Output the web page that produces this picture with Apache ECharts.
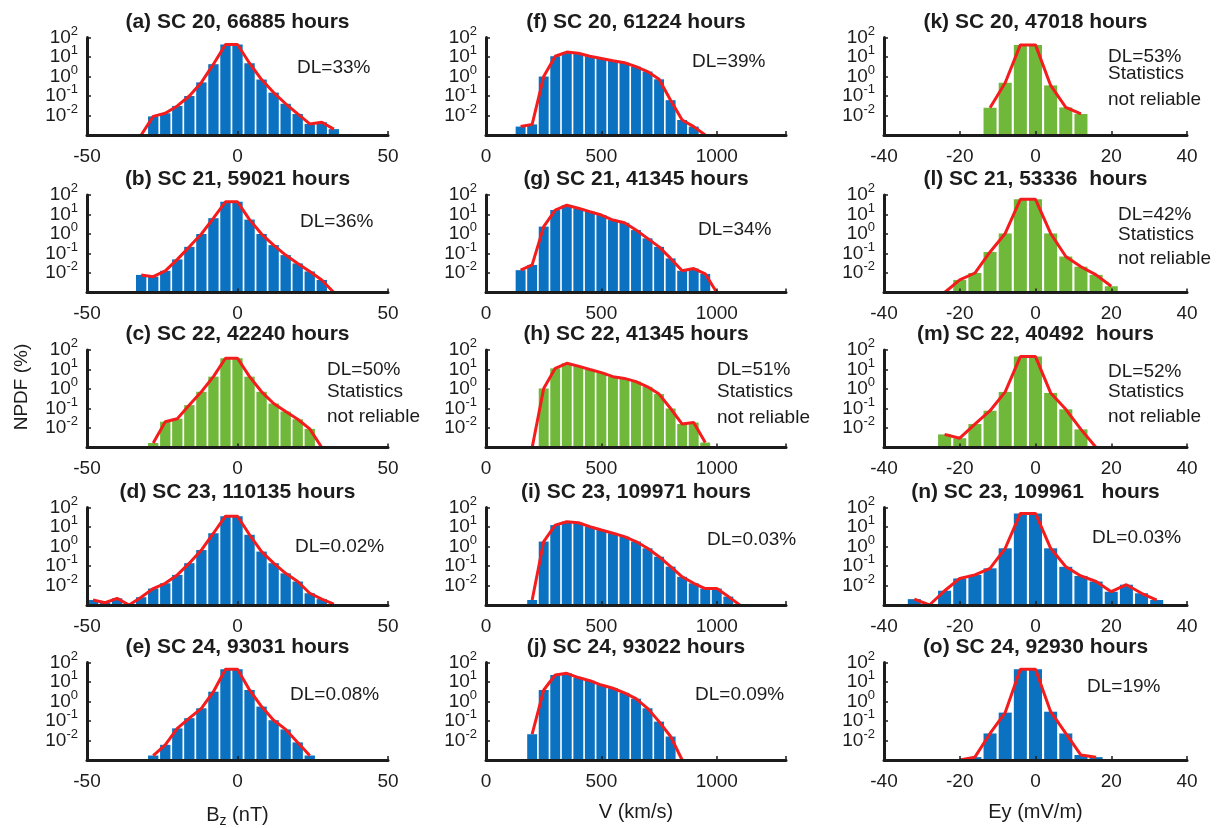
<!DOCTYPE html>
<html>
<head>
<meta charset="utf-8">
<script src="https://cdn.jsdelivr.net/npm/echarts@6/dist/echarts.min.js"></script>
<style>
html,body{margin:0;padding:0;background:#ffffff;}
#chart{width:1221px;height:828px;}
</style>
</head>
<body>
<div id="chart"></div>
<script>
// ---------------- DATA ----------------
// bin centres for each column
const BZ_BINS = [-48,-44,-40,-36,-32,-28,-24,-20,-16,-12,-8,-4,0,4,8,12,16,20,24,28,32];
const V_BINS  = [150,200,250,300,350,400,450,500,550,600,650,700,750,800,850,900,950,1000,1050,1100];
const EY_BINS = [-32,-28,-24,-20,-16,-12,-8,-4,0,4,8,12,16,20,24,28,32];

// NPDF (%) per bin; null = outside plotted range, 0 = empty bin (line drops to axis floor)
const BZ_SC20 = [null,null,null,null,0,0.009,0.013,0.031,0.1,0.5,4.3,44,44,4.8,0.7,0.15,0.04,0.012,0.0037,0.0045,0.002];
const BZ_SC21 = [null,null,null,null,0.008,0.0065,0.013,0.05,0.22,1.0,6.5,45,45,5.5,1.0,0.27,0.083,0.031,0.012,0.0044,0];
const BZ_SC22 = [null,null,null,null,null,0.0017,0.021,0.03,0.15,0.72,4.3,38,38,4.3,0.72,0.18,0.07,0.028,0.009,0,null];
const BZ_SC23 = [0.0018,0.0013,0.0022,0,0.0025,0.007,0.013,0.035,0.14,0.66,4.8,36,36,4,0.55,0.14,0.042,0.016,0.004,0.002,0.0011];
const BZ_SC24 = [null,null,null,null,null,0.0017,0.006,0.042,0.14,0.45,3.2,45,45,3.9,0.55,0.11,0.037,0.008,0.0017,null,null];

const V_SC20 = [0.0027,0.0035,1.0,11,18,15.5,11,8.5,6.5,5.1,3.2,1.8,0.72,0.061,0.0059,0.0027,0,null,null,null];
const V_SC21 = [0.014,0.026,2.4,17,30,21,14,9.4,5.2,3.8,1.6,0.6,0.22,0.056,0.013,0.017,0.009,0,null,null];
const V_SC22 = [null,0,1.07,11.5,21,15,10,6.9,4.3,3.5,2.4,1.3,0.55,0.1,0.016,0.019,0.0018,null,null,null];
const V_SC23 = [null,0.0018,1.8,12.5,18.7,16.6,10.4,7,4.8,3.2,1.8,0.81,0.3,0.093,0.028,0.013,0.007,0.007,0.0027,0];
const V_SC24 = [null,0.021,3.9,23,28,17,11.7,7,4.8,2.8,1.4,0.45,0.093,0.016,0,null,null,null,null,null];

const EY_SC20 = [null,null,null,null,null,0.025,0.48,42,42,0.35,0.026,0.012,null,null,null,null,null];
const EY_SC21 = [null,null,0,0.0044,0.01,0.12,1.07,60,60,1.07,0.07,0.021,0.008,0.0021,null,null,null];
const EY_SC22 = [null,null,0.0047,0.003,0.016,0.077,0.71,46,46,0.63,0.091,0.0085,0,null,null,null,null];
const EY_SC23 = [0.002,0,0.0054,0.023,0.035,0.076,0.81,50,50,0.81,0.091,0.031,0.016,0.0048,0.011,0.004,0.0018];
const EY_SC24 = [null,null,null,0,0.0014,0.023,0.27,45,45,0.3,0.023,0.0018,0.0014,null,null,null,null];

const BZ_TITLES = ['(a) SC 20, 66885 hours','(b) SC 21, 59021 hours','(c) SC 22, 42240 hours','(d) SC 23, 110135 hours','(e) SC 24, 93031 hours'];
const V_TITLES  = ['(f) SC 20, 61224 hours','(g) SC 21, 41345 hours','(h) SC 22, 41345 hours','(i) SC 23, 109971 hours','(j) SC 24, 93022 hours'];
const EY_TITLES = ['(k) SC 20, 47018 hours','(l) SC 21, 53336  hours','(m) SC 22, 40492  hours','(n) SC 23, 109961   hours','(o) SC 24, 92930 hours'];

const BZ_DL = [['DL=33%'],['DL=36%'],['DL=50%','Statistics','not reliable'],['DL=0.02%'],['DL=0.08%']];
const V_DL  = [['DL=39%'],['DL=34%'],['DL=51%','Statistics','not reliable'],['DL=0.03%'],['DL=0.09%']];
const EY_DL = [['DL=53%','Statistics','not reliable'],['DL=42%','Statistics','not reliable'],['DL=52%','Statistics','not reliable'],['DL=0.03%'],['DL=19%']];

const X_NAMES = ['B{sub|z} (nT)','V (km/s)','Ey (mV/m)'];
const Y_NAME = 'NPDF (%)';
const X_RANGES = [[-50,50,50],[0,1300,500],[-40,40,20]];
const Y_MIN = 0.001, Y_MAX = 100;

// ---------------- LAYOUT / STYLE ----------------
const FONT = '"Liberation Sans", Arial, Helvetica, sans-serif';
const TXT = '#1c1c1c';
const BLUE = '#0a72c0';
const GREEN = '#70b83a';
const RED = '#f41c1c';
const COL_LEFT = [87, 486, 884];
const COL_W = [301, 300, 303];
const ROW_BOTTOM = [135, 292.5, 447.5, 605, 760];
const GRID_H = 97.5;
const GREEN_PANELS = {'0_2':1,'1_2':1,'2_0':1,'2_1':1,'2_2':1};
// DL text anchor (left x, centre y of first line) and line offsets
const DL_POS = [
  [[297,68],[300,222],[327,370],[295,547],[290,695]],
  [[692,62],[698,230],[717,370],[707,540],[695,695]],
  [[1108,57],[1118,215],[1108,372],[1092,538],[1087,687]]
];
const DL_LINE_OFF = [
  [null,null,[0,22,47],null,null],
  [null,null,[0,22,48],null,null],
  [[0,17,43],[0,20,44],[0,20,45],null,null]
];

const COLS = [
  {bins: BZ_BINS, vals: [BZ_SC20,BZ_SC21,BZ_SC22,BZ_SC23,BZ_SC24], titles: BZ_TITLES, dl: BZ_DL},
  {bins: V_BINS,  vals: [V_SC20,V_SC21,V_SC22,V_SC23,V_SC24],      titles: V_TITLES,  dl: V_DL},
  {bins: EY_BINS, vals: [EY_SC20,EY_SC21,EY_SC22,EY_SC23,EY_SC24], titles: EY_TITLES, dl: EY_DL}
];

// y-axis top is nudged a hair above 10^2 so that the (blank) end tick, not the 10^2 label,
// is the one ECharts drops when neighbouring labels crowd each other
const Y_TOP = Y_MAX * 1.005;

const grids = [], xAxes = [], yAxes = [], series = [], graphics = [];
let idx = 0;
COLS.forEach((col, c) => {
  col.vals.forEach((vals, r) => {
    const yb = ROW_BOTTOM[r];
    grids.push({left: COL_LEFT[c], top: yb - GRID_H, width: COL_W[c], height: GRID_H,
                containLabel: false, outerBoundsMode: 'none'});
    const xr = X_RANGES[c];
    const isBottom = r === 4;
    xAxes.push({
      type: 'value', gridIndex: idx, min: xr[0], max: xr[1], interval: xr[2], z: 6,
      splitLine: {show: false},
      axisLine: {show: true, onZero: false, lineStyle: {color: TXT, width: 3}},
      axisTick: {show: true, inside: true, length: 4, lineStyle: {color: TXT, width: 1.5}},
      axisLabel: {show: true, fontSize: 19, fontFamily: FONT, color: TXT, margin: 12,
                  hideOverlap: false,
                  formatter: v => (v % xr[2] === 0 ? String(v) : '')},
      name: isBottom ? X_NAMES[c] : '',
      nameLocation: 'middle', nameGap: 42,
      nameTextStyle: {fontSize: 20, fontFamily: FONT, color: TXT,
                      rich: {sub: {fontSize: 14, fontFamily: FONT, color: TXT, padding: [12,0,0,0]}}}
    });
    yAxes.push({
      type: 'log', logBase: 10, gridIndex: idx, min: Y_MIN, max: Y_TOP, startValue: Y_MIN, z: 6,
      splitLine: {show: false},
      axisLine: {show: true, onZero: false, lineStyle: {color: TXT, width: 3}},
      axisTick: {show: true, inside: true, length: 4, lineStyle: {color: TXT, width: 1.5}},
      minorTick: {show: false},
      axisLabel: {
        show: true, fontSize: 19, lineHeight: 12, fontFamily: FONT, color: TXT, margin: 9,
        hideOverlap: false,
        formatter: v => {
          const l = Math.log10(v);
          const e = Math.round(l);
          if (Math.abs(l - e) > 0.001 || e < -2 || e > 2) return '';
          return '10{sup|' + (e < 0 ? '-' + (-e) : String(e)) + '}';
        },
        rich: {sup: {fontSize: 13, lineHeight: 1, verticalAlign: 'top', padding: [-7, 0, 0, 0],
                     fontFamily: FONT, color: TXT}}
      }
    });
    const barData = [], lineData = [];
    col.bins.forEach((x, i) => {
      const v = vals[i];
      if (v === null) return;
      if (v > 0) barData.push([x, v]);
      lineData.push([x, Math.max(v, Y_MIN)]);
    });
    const green = GREEN_PANELS[c + '_' + r];
    series.push({
      type: 'bar', xAxisIndex: idx, yAxisIndex: idx, data: barData,
      barWidth: '86%', itemStyle: {color: green ? GREEN : BLUE}, silent: true, z: 2, animation: false
    });
    series.push({
      type: 'line', xAxisIndex: idx, yAxisIndex: idx, data: lineData, showSymbol: false, symbol: 'none',
      lineStyle: {color: RED, width: 3}, clip: true, z: 3, animation: false, silent: true
    });
    // panel title
    graphics.push({type: 'text', x: COL_LEFT[c] + COL_W[c] / 2, y: yb - 113, silent: true,
      style: {text: col.titles[r], font: 'bold 21px ' + FONT, fill: TXT,
              align: 'center', verticalAlign: 'middle', textAlign: 'center', textVerticalAlign: 'middle'}});
    // DL annotation
    const pos = DL_POS[c][r];
    const offs = DL_LINE_OFF[c][r] || [0];
    col.dl[r].forEach((line, k) => {
      graphics.push({type: 'text', x: pos[0], y: pos[1] + offs[k], silent: true,
        style: {text: line, font: '19px ' + FONT, fill: TXT,
                align: 'left', verticalAlign: 'middle', textAlign: 'left', textVerticalAlign: 'middle'}});
    });
    idx++;
  });
});
graphics.push({type: 'text', x: 22, y: 387, rotation: Math.PI / 2, silent: true,
  style: {text: Y_NAME, font: '19px ' + FONT, fill: TXT,
          align: 'center', verticalAlign: 'middle', textAlign: 'center', textVerticalAlign: 'middle'}});

const chart = echarts.init(document.getElementById('chart'), null, {renderer: 'canvas'});
chart.setOption({
  backgroundColor: '#ffffff',
  animation: false,
  textStyle: {fontFamily: FONT},
  grid: grids, xAxis: xAxes, yAxis: yAxes, series: series, graphic: graphics
});
</script>
</body>
</html>
